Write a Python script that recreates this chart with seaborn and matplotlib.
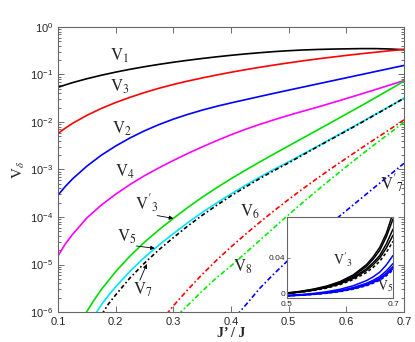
import numpy as np
import matplotlib
matplotlib.use("Agg")
import matplotlib.pyplot as plt
import seaborn as sns

# ---------------- data: log10(V_delta) ----------------
x_grid = [0.1, 0.1125, 0.125, 0.15, 0.175, 0.2, 0.225, 0.25, 0.275, 0.3, 0.325, 0.35, 0.375, 0.4,
          0.425, 0.45, 0.475, 0.5, 0.525, 0.55, 0.575, 0.6, 0.625, 0.65, 0.675, 0.7]
logV1 = [-1.27, -1.22, -1.172, -1.089, -1.016, -0.95, -0.89, -0.836, -0.787, -0.742, -0.701, -0.663,
         -0.628, -0.596, -0.567, -0.541, -0.518, -0.499, -0.484, -0.473, -0.465, -0.46,
         -0.455, -0.455, -0.463, -0.478]
logV3 = [-2.24, -2.13, -2.03, -1.86, -1.715, -1.59, -1.48, -1.38, -1.29, -1.21, -1.138, -1.073,
         -1.011, -0.953, -0.899, -0.848, -0.80, -0.755, -0.712, -0.672, -0.634, -0.598,
         -0.564, -0.532, -0.501, -0.471]
logV2 = [-3.54, -3.36, -3.20, -2.93, -2.70, -2.505, -2.335, -2.185, -2.055, -1.94, -1.84, -1.75,
         -1.67, -1.598, -1.53, -1.462, -1.395, -1.329, -1.264, -1.199, -1.134, -1.069,
         -1.004, -0.939, -0.874, -0.809]
logV4 = [-4.82, -4.57, -4.37, -4.02, -3.75, -3.52, -3.315, -3.13, -2.965, -2.81, -2.663, -2.524,
         -2.393, -2.269, -2.154, -2.049, -1.952, -1.86, -1.772, -1.687, -1.597, -1.506,
         -1.413, -1.319, -1.224, -1.128]

x_v3p = [0.145, 0.15, 0.1625, 0.175, 0.2, 0.225, 0.25, 0.275, 0.3, 0.325, 0.35, 0.375, 0.4, 0.425,
         0.45, 0.475, 0.5, 0.525, 0.55, 0.575, 0.6, 0.625, 0.65, 0.675, 0.7]
logV3p = [-6.08, -5.99, -5.75, -5.53, -5.15, -4.82, -4.53, -4.27, -4.03, -3.80, -3.585, -3.385,
          -3.195, -3.015, -2.84, -2.67, -2.502, -2.335, -2.168, -2.001, -1.833, -1.663,
          -1.491, -1.317, -1.141]

x_v5 = [0.165, 0.175, 0.1875, 0.2, 0.225, 0.25, 0.275, 0.3, 0.325, 0.35, 0.375, 0.4, 0.425, 0.45,
        0.475, 0.5, 0.525, 0.55, 0.575, 0.6, 0.625, 0.65, 0.675, 0.7]
logV5 = [-6.04, -5.85, -5.65, -5.47, -5.14, -4.85, -4.59, -4.35, -4.12, -3.905, -3.705, -3.515,
         -3.335, -3.16, -2.995, -2.84, -2.675, -2.51, -2.345, -2.178, -2.01, -1.842,
         -1.672, -1.50]

x_v7 = [0.176, 0.1875, 0.2, 0.225, 0.25, 0.275, 0.3, 0.325, 0.35, 0.375, 0.4, 0.425, 0.45, 0.475,
        0.5, 0.525, 0.55, 0.575, 0.6, 0.625, 0.65, 0.675, 0.7]
logV7 = [-6.05, -5.83, -5.64, -5.28, -4.97, -4.69, -4.435, -4.19, -3.965, -3.755, -3.555, -3.37,
         -3.19, -3.02, -2.86, -2.69, -2.52, -2.355, -2.188, -2.02, -1.847, -1.675, -1.50]

x_v6 = [0.288, 0.3, 0.325, 0.35, 0.375, 0.4, 0.425, 0.45, 0.475, 0.5, 0.525, 0.55, 0.575,
        0.6, 0.625, 0.65, 0.675, 0.7]
logV6 = [-6.05, -5.87, -5.53, -5.21, -4.91, -4.63, -4.365, -4.11, -3.865, -3.63, -3.403,
         -3.183, -2.97, -2.762, -2.558, -2.357, -2.159, -1.955]

x_v8 = [0.309, 0.325, 0.35, 0.375, 0.4, 0.425, 0.45, 0.475, 0.5, 0.525, 0.55, 0.575, 0.6,
        0.625, 0.65, 0.675, 0.7]
logV8 = [-6.05, -5.86, -5.56, -5.28, -5.03, -4.76, -4.49, -4.22, -3.95, -3.69, -3.435,
         -3.185, -2.94, -2.70, -2.465, -2.235, -2.005]

x_v7p = [0.41, 0.425, 0.45, 0.475, 0.5, 0.525, 0.55, 0.575, 0.6, 0.625, 0.65, 0.675, 0.7]
logV7p = [-6.07, -5.86, -5.50, -5.19, -4.90, -4.63, -4.37, -4.115, -3.865, -3.615, -3.365,
          -3.117, -2.87]

xticks_main = [0.1, 0.2, 0.3, 0.4, 0.5, 0.6, 0.7]
xtick_labels_main = ["0.1", "0.2", "0.3", "0.4", "0.5", "0.6", "0.7"]

# inset (linear scale)
x_in = [0.5, 0.525, 0.55, 0.575, 0.6, 0.625, 0.65, 0.6625, 0.675, 0.6875, 0.7]
ins_black = [
    [0.0050, 0.0066, 0.0088, 0.0118, 0.0162, 0.0228, 0.0330, 0.0405, 0.050, 0.064, 0.084],
    [0.0048, 0.0063, 0.0084, 0.0113, 0.0155, 0.0217, 0.0312, 0.0383, 0.047, 0.0605, 0.078],
    [0.0046, 0.0060, 0.0080, 0.0107, 0.0146, 0.0203, 0.0288, 0.0348, 0.042, 0.0535, 0.068],
    [0.0045, 0.0058, 0.0077, 0.0103, 0.0140, 0.0193, 0.0272, 0.0328, 0.0395, 0.0495, 0.062],
]
ins_black_dash = [0.0043, 0.0056, 0.0074, 0.0098, 0.0132, 0.0181, 0.0252, 0.0302, 0.0362, 0.0451, 0.056]
ins_blue = [
    [0.0025, 0.0033, 0.0045, 0.0062, 0.0086, 0.0121, 0.0172, 0.0209, 0.0255, 0.0327, 0.042],
    [0.0023, 0.0030, 0.0040, 0.0054, 0.0074, 0.0103, 0.0145, 0.0175, 0.0212, 0.0268, 0.034],
    [0.0022, 0.0029, 0.0038, 0.0051, 0.0069, 0.0096, 0.0134, 0.0162, 0.0195, 0.0246, 0.031],
    [0.0021, 0.0028, 0.0037, 0.0049, 0.0066, 0.0091, 0.0127, 0.0153, 0.0184, 0.0231, 0.029],
]
ins_blue_dash = [0.0020, 0.0027, 0.0035, 0.0047, 0.0063, 0.0087, 0.0121, 0.0146, 0.0175, 0.0219, 0.0275]

# ---------------- style ----------------
sns.set_style("ticks")
plt.rcParams["font.family"] = ["Liberation Sans", "DejaVu Sans"]
plt.rcParams["mathtext.fontset"] = "stix"

fig = plt.figure(figsize=(4.15, 3.42), dpi=100)
ax = fig.add_axes([58 / 415, 1 - 312 / 342, 346 / 415, 285 / 342])
ax.set_yscale("log")


def pw(L):
    return np.power(10.0, np.array(L))


LW = 1.2
dashdot = (0, (3, 1.5, 1, 1.5))
series = [
    (x_grid, logV1, "black", "-"),
    (x_grid, logV3, "#ff0000", "-"),
    (x_grid, logV2, "#0000ff", "-"),
    (x_grid, logV4, "#ff00ff", "-"),
    (x_v3p, logV3p, "#00dd00", "-"),
    (x_v5, logV5, "#00e5ff", "-"),
    (x_v7, logV7, "black", (0, (2.5, 1.5, 1, 1.5))),
    (x_v6, logV6, "#ff0000", dashdot),
    (x_v8, logV8, "#00ee00", dashdot),
    (x_v7p, logV7p, "#0000ff", dashdot),
]
for xs, L, c, ls in series:
    sns.lineplot(x=xs, y=pw(L), ax=ax, color=c, lw=LW, linestyle=ls,
                 estimator=None, sort=False, legend=False)

ax.set_xlim(0.1, 0.7)
ax.set_ylim(1e-6, 1)
ax.set_xticks(xticks_main)
ax.set_xticklabels(xtick_labels_main)
ax.yaxis.set_major_locator(matplotlib.ticker.LogLocator(base=10, numticks=10))
ax.yaxis.set_minor_locator(matplotlib.ticker.LogLocator(base=10, subs=np.arange(2, 10), numticks=20))
ax.yaxis.set_minor_formatter(matplotlib.ticker.NullFormatter())
ax.tick_params(which="both", direction="in", top=True, right=True, labelsize=8,
               color="#555555", width=0.6)
ax.tick_params(which="major", length=4)
ax.tick_params(which="minor", length=2)
for s in ax.spines.values():
    s.set_color("#666666")
    s.set_linewidth(0.8)

ax.set_ylabel(r"$\mathrm{V}_{\delta}$", fontsize=11, labelpad=2)
ax.set_xlabel("J’ / J", fontsize=10, fontweight="bold", family="Liberation Serif", labelpad=0)

# curve labels
lab_fs = 12


def lab(x, L, s, fs=lab_fs):
    ax.text(x, 10 ** L, s, fontsize=fs, ha="left", va="baseline")


lab(0.190, -0.70, r"$\mathrm{V}_1$")
lab(0.190, -1.36, r"$\mathrm{V}_3$")
lab(0.193, -2.24, r"$\mathrm{V}_2$")
lab(0.199, -3.15, r"$\mathrm{V}_4$")
lab(0.233, -3.85, r"$\mathrm{V'}_3$")
lab(0.202, -4.52, r"$\mathrm{V}_5$")
lab(0.230, -5.64, r"$\mathrm{V}_7$")
lab(0.415, -3.99, r"$\mathrm{V}_6$")
lab(0.404, -5.15, r"$\mathrm{V}_8$")
lab(0.659, -3.43, r"$\mathrm{V'}_7$")

arr = dict(arrowstyle="-|>", lw=0.6, color="black", mutation_scale=6, shrinkA=0, shrinkB=0)
ax.annotate("", xy=(0.300, 10 ** -4.03), xytext=(0.272, 10 ** -3.97), arrowprops=arr)
ax.annotate("", xy=(0.268, 10 ** -4.66), xytext=(0.236, 10 ** -4.61), arrowprops=arr)
ax.annotate("", xy=(0.254, 10 ** -4.99), xytext=(0.242, 10 ** -5.33), arrowprops=arr)

# ---------------- inset ----------------
ax2 = fig.add_axes([287 / 415, 1 - 298 / 342, 106 / 415, 81 / 342])
ax2.set_facecolor("white")
for ys in ins_black:
    sns.lineplot(x=x_in, y=ys, ax=ax2, color="black", lw=1.1, estimator=None, sort=False, legend=False)
sns.lineplot(x=x_in, y=ins_black_dash, ax=ax2, color="black", lw=1.1, linestyle=(0, (2, 1.5)),
             estimator=None, sort=False, legend=False)
for ys in ins_blue:
    sns.lineplot(x=x_in, y=ys, ax=ax2, color="#0000ff", lw=1.1, estimator=None, sort=False, legend=False)
sns.lineplot(x=x_in, y=ins_blue_dash, ax=ax2, color="#0000ff", lw=1.1, linestyle=(0, (2, 1.5)),
             estimator=None, sort=False, legend=False)
ax2.set_xlim(0.5, 0.7)
ax2.set_ylim(0, 0.08)
ax2.set_xticks([0.5, 0.7])
ax2.set_xticklabels(["0.5", "0.7"])
ax2.set_yticks([0, 0.04])
ax2.set_yticklabels(["0", "0.04"])
ax2.tick_params(direction="in", labelsize=6, pad=1, length=2, color="#555555", width=0.5)
ax2.tick_params(axis="x", pad=2.5)
ax2.get_yticklabels()[0].set_verticalalignment("bottom")
for s in ax2.spines.values():
    s.set_color("#666666")
    s.set_linewidth(0.8)
ax2.text(0.587, 0.0326, r"$\mathrm{V'}_3$", fontsize=10, ha="left", va="baseline")
ax2.text(0.669, 0.0079, r"$\mathrm{V}_5$", fontsize=10, ha="left", va="baseline")

fig.savefig("out.png", dpi=100)
